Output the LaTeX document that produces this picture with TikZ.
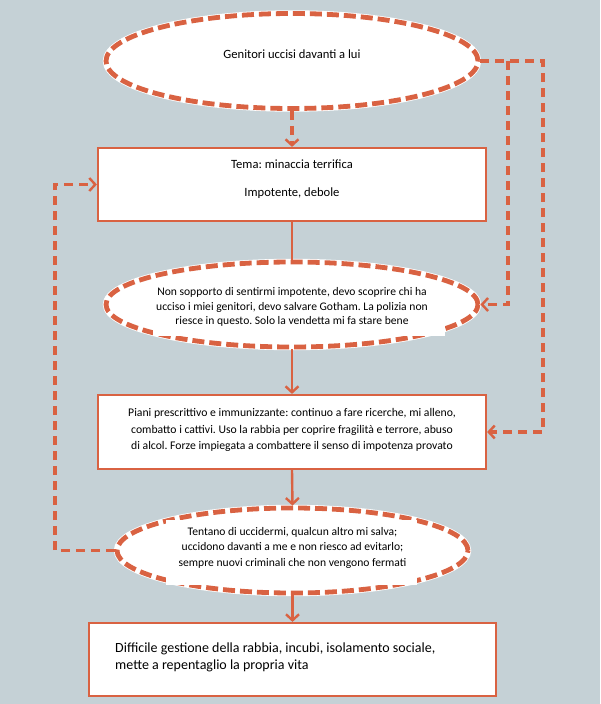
\documentclass[tikz,border=0pt]{standalone}
\usepackage{fontspec}
\setmainfont{Carlito}
\usetikzlibrary{shapes.geometric,arrows.meta}
\definecolor{bg}{RGB}{197,209,214}
\definecolor{org}{RGB}{217,98,66}
\frenchspacing
\begin{document}
\begin{tikzpicture}[x=1pt,y=-1pt,
  ell/.style={ellipse, draw=org, line width=4.8pt, dash pattern=on 12pt off 5pt,
    fill=white, inner sep=0pt,
    preaction={draw=white, line width=6.4pt, solid}},
  box/.style={rectangle, draw=org, line width=2.2pt, fill=white, inner sep=0pt},
  wbox/.style={rectangle, fill=white, draw=none, inner sep=0pt},
  txt/.style={inner sep=0pt, align=center, text=black},
  dline/.style={draw=org, line width=3.4pt, dash pattern=on 9pt off 6pt},
  sline/.style={draw=org, line width=2.4pt},
  tip/.style={-{Straight Barb[length=6pt,width=13pt,line width=2.4pt]}}
]
\fill[bg] (0,0) rectangle (600,704);
\useasboundingbox (0,0) rectangle (600,704);

% shapes
\node[ell, minimum width=372pt, minimum height=95pt] (e1) at (292,61) {};
\node[box, minimum width=388pt, minimum height=73pt] (r1) at (292,184.5) {};
\node[ell, minimum width=372pt, minimum height=85pt] (e2) at (292,304.5) {};
\node[wbox, minimum width=292pt, minimum height=50pt] (w2) at (299,311) {};
\node[box, minimum width=388pt, minimum height=74pt] (r2) at (292,432) {};
\node[ell, minimum width=351pt, minimum height=85pt] (e3) at (292.5,550.5) {};
\node[wbox, minimum width=251pt, minimum height=65pt] (w3) at (291.5,552.5) {};
\node[box, minimum width=407pt, minimum height=73pt] (r3) at (292.5,659.5) {};

% texts
\node[txt, font=\fontsize{12.6}{15}\selectfont] (t1) at (292,54) {Genitori uccisi davanti a lui};
\node[txt, font=\fontsize{12.6}{15}\selectfont] (t2a) at (292,164) {Tema: minaccia terrifica};
\node[txt, font=\fontsize{12.6}{15}\selectfont] (t2b) at (292,193) {Impotente, debole};
\node[txt, font=\fontsize{11.6}{14.5}\selectfont] (t3) at (292,307) {Non sopporto di sentirmi impotente, devo scoprire chi ha\\ucciso i miei genitori, devo salvare Gotham. La polizia non\\riesce in questo. Solo la vendetta mi fa stare bene};
\node[txt, font=\fontsize{11.7}{16.5}\selectfont] (t4) at (292,430) {Piani prescrittivo e immunizzante: continuo a fare ricerche, mi alleno,\\combatto i cattivi. Uso la rabbia per coprire fragilità e terrore, abuso\\di alcol. Forze impiegata a combattere il senso di impotenza provato};
\node[txt, font=\fontsize{11.6}{15.5}\selectfont] (t5) at (292.5,547.5) {Tentano di uccidermi, qualcun altro mi salva;\\uccidono davanti a me e non riesco ad evitarlo;\\sempre nuovi criminali che non vengono fermati};
\node[txt, align=left, anchor=west, font=\fontsize{14}{17}\selectfont] (t6) at (115,657) {Difficile gestione della rabbia, incubi, isolamento sociale,\\mette a repentaglio la propria vita};

% connectors
\coordinate (c1) at (543,61);
\coordinate (br) at (508,61);
\coordinate (c2) at (55,550.5);
\draw[dline, tip] (e1.south) -- (r1.north);
\draw[sline] (r1.south) -- (e2.north);
\draw[sline, tip] (e2.south) -- (r2.north);
\draw[sline, tip] (r2.south) -- (e3.north);
\draw[sline, tip] (e3.south) -- (r3.north);
\draw[dline, tip] (e3.west) -- (c2) |- (r1.west);
\draw[dline, tip] (e1.east) -- (c1) |- (r2.east);
\draw[dline, tip] (br) |- (e2.east);
\end{tikzpicture}
\end{document}
